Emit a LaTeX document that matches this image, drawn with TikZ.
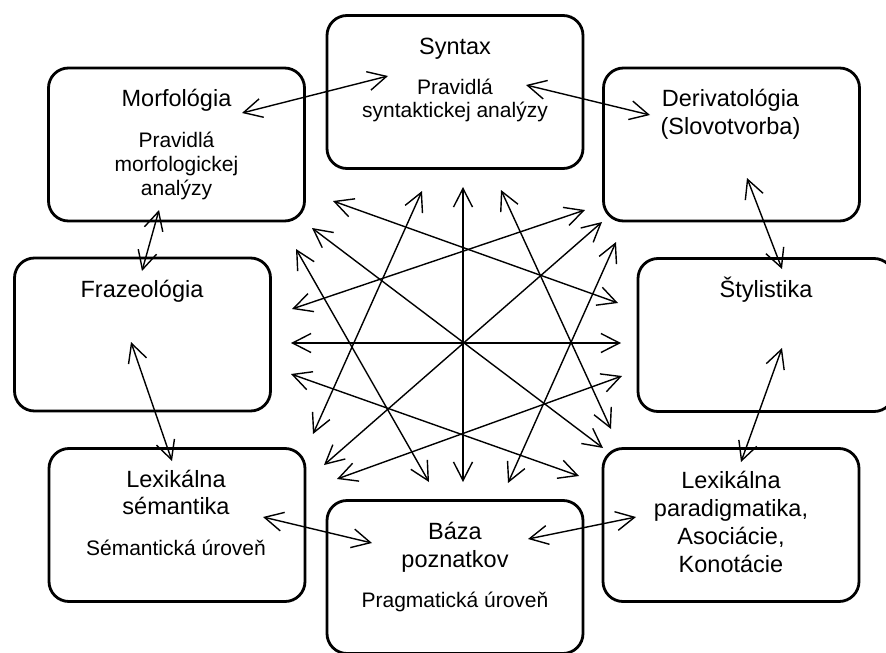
\documentclass[tikz,border=0pt]{standalone}
\usepackage{fontspec}
\setmainfont{Liberation Sans}
\usetikzlibrary{arrows.meta}
\begin{document}
\begin{tikzpicture}[x=1pt,y=-1pt,
  panel/.style={draw, line width=2.8pt, rounded corners=20pt, fill=white,
    minimum width=256pt, minimum height=153pt, inner sep=0pt},
  ttl/.style={anchor=base, inner sep=0pt, font=\fontsize{23.5}{28}\selectfont},
  subline/.style={anchor=base, inner sep=0pt, font=\fontsize{21}{25}\selectfont},
  link/.style={line width=1.4pt,
    {Straight Barb[length=18.5pt,width=19pt]}-{Straight Barb[length=18.5pt,width=19pt]}}]
\useasboundingbox (0,0) rectangle (886,653);
\clip (0,0) rectangle (886,653);

% --- the eight panels ---
\node[panel] (syn)  at (455,92)    {};
\node[panel] (morf) at (176.5,144.5) {};
\node[panel] (der)  at (731.5,144.5) {};
\node[panel] (fraz) at (142.5,334.5) {};
\node[panel] (styl) at (766,335)   {};
\node[panel] (lsem) at (177,525)   {};
\node[panel] (baza) at (455,577)   {};
\node[panel] (lpar) at (731,525)   {};

% --- panel texts ---
\node[ttl]     (synT)  at (455,54)  {Syntax};
\node[subline] (synA)  at (455,94)  {Pravidlá};
\node[subline] (synB)  at (455,117.5) {syntaktickej analýzy};

\node[ttl]     (morfT) at (176.5,106) {Morfológia};
\node[subline] (morfA) at (176.5,147) {Pravidlá};
\node[subline] (morfB) at (176.5,171) {morfologickej};
\node[subline] (morfC) at (176.5,195) {analýzy};

\node[ttl] (derT) at (730.5,106) {Derivatológia};
\node[ttl] (derU) at (730.5,134) {(Slovotvorba)};

\node[ttl] (frazT) at (142,297) {Frazeológia};
\node[ttl] (stylT) at (766,297) {Štylistika};

\node[ttl]     (lsemT) at (176,487) {Lexikálna};
\node[ttl]     (lsemU) at (176,514) {sémantika};
\node[subline] (lsemA) at (176,555) {Sémantická úroveň};

\node[ttl]     (bazaT) at (455,539) {Báza};
\node[ttl]     (bazaU) at (455,567) {poznatkov};
\node[subline] (bazaA) at (455,607) {Pragmatická úroveň};

\node[ttl] (lparT) at (731,488) {Lexikálna};
\node[ttl] (lparU) at (731,516) {paradigmatika,};
\node[ttl] (lparV) at (731,544) {Asociácie,};
\node[ttl] (lparW) at (731,572) {Konotácie};

% --- ends of the links between neighbouring panels ---
\coordinate (mS) at (242,113);  \coordinate (sM) at (388,76);
\coordinate (sD) at (526,85);   \coordinate (dS) at (650,115);
\coordinate (mF) at (159,210);  \coordinate (fM) at (142,271);
\coordinate (dY) at (747,178);  \coordinate (yD) at (782,269);
\coordinate (fL) at (131,342);  \coordinate (lF) at (172,461);
\coordinate (yP) at (782,348);  \coordinate (pY) at (741,462);
\coordinate (lB) at (263,517);  \coordinate (bL) at (372,543);
\coordinate (bP) at (528,539);  \coordinate (pB) at (636,517);

\draw[link] (mS) -- (sM);
\draw[link] (sD) -- (dS);
\draw[link] (mF) -- (fM);
\draw[link] (dY) -- (yD);
\draw[link] (fL) -- (lF);
\draw[link] (yP) -- (pY);
\draw[link] (lB) -- (bL);
\draw[link] (bP) -- (pB);

% --- the central star of twelve double arrows ---
\coordinate (a1) at (463,187);  \coordinate (b1) at (463,482);
\coordinate (a2) at (291,343);  \coordinate (b2) at (621,343);
\coordinate (a3) at (312,228);  \coordinate (b3) at (603,448);
\coordinate (a4) at (602,222);  \coordinate (b4) at (324,465);
\coordinate (a5) at (333,201);  \coordinate (b5) at (618,303);
\coordinate (a6) at (422,191);  \coordinate (b6) at (313,434);
\coordinate (a7) at (501,190);  \coordinate (b7) at (611,429);
\coordinate (a8) at (585,210);  \coordinate (b8) at (292,309);
\coordinate (a9) at (616,242);  \coordinate (b9) at (508,483);
\coordinate (a10) at (296,249); \coordinate (b10) at (429,482);
\coordinate (a11) at (291,374); \coordinate (b11) at (579,476);
\coordinate (a12) at (622,376); \coordinate (b12) at (337,479);

\foreach \i in {1,...,12} {
  \draw[link] (a\i) -- (b\i);
}
\end{tikzpicture}
\end{document}
